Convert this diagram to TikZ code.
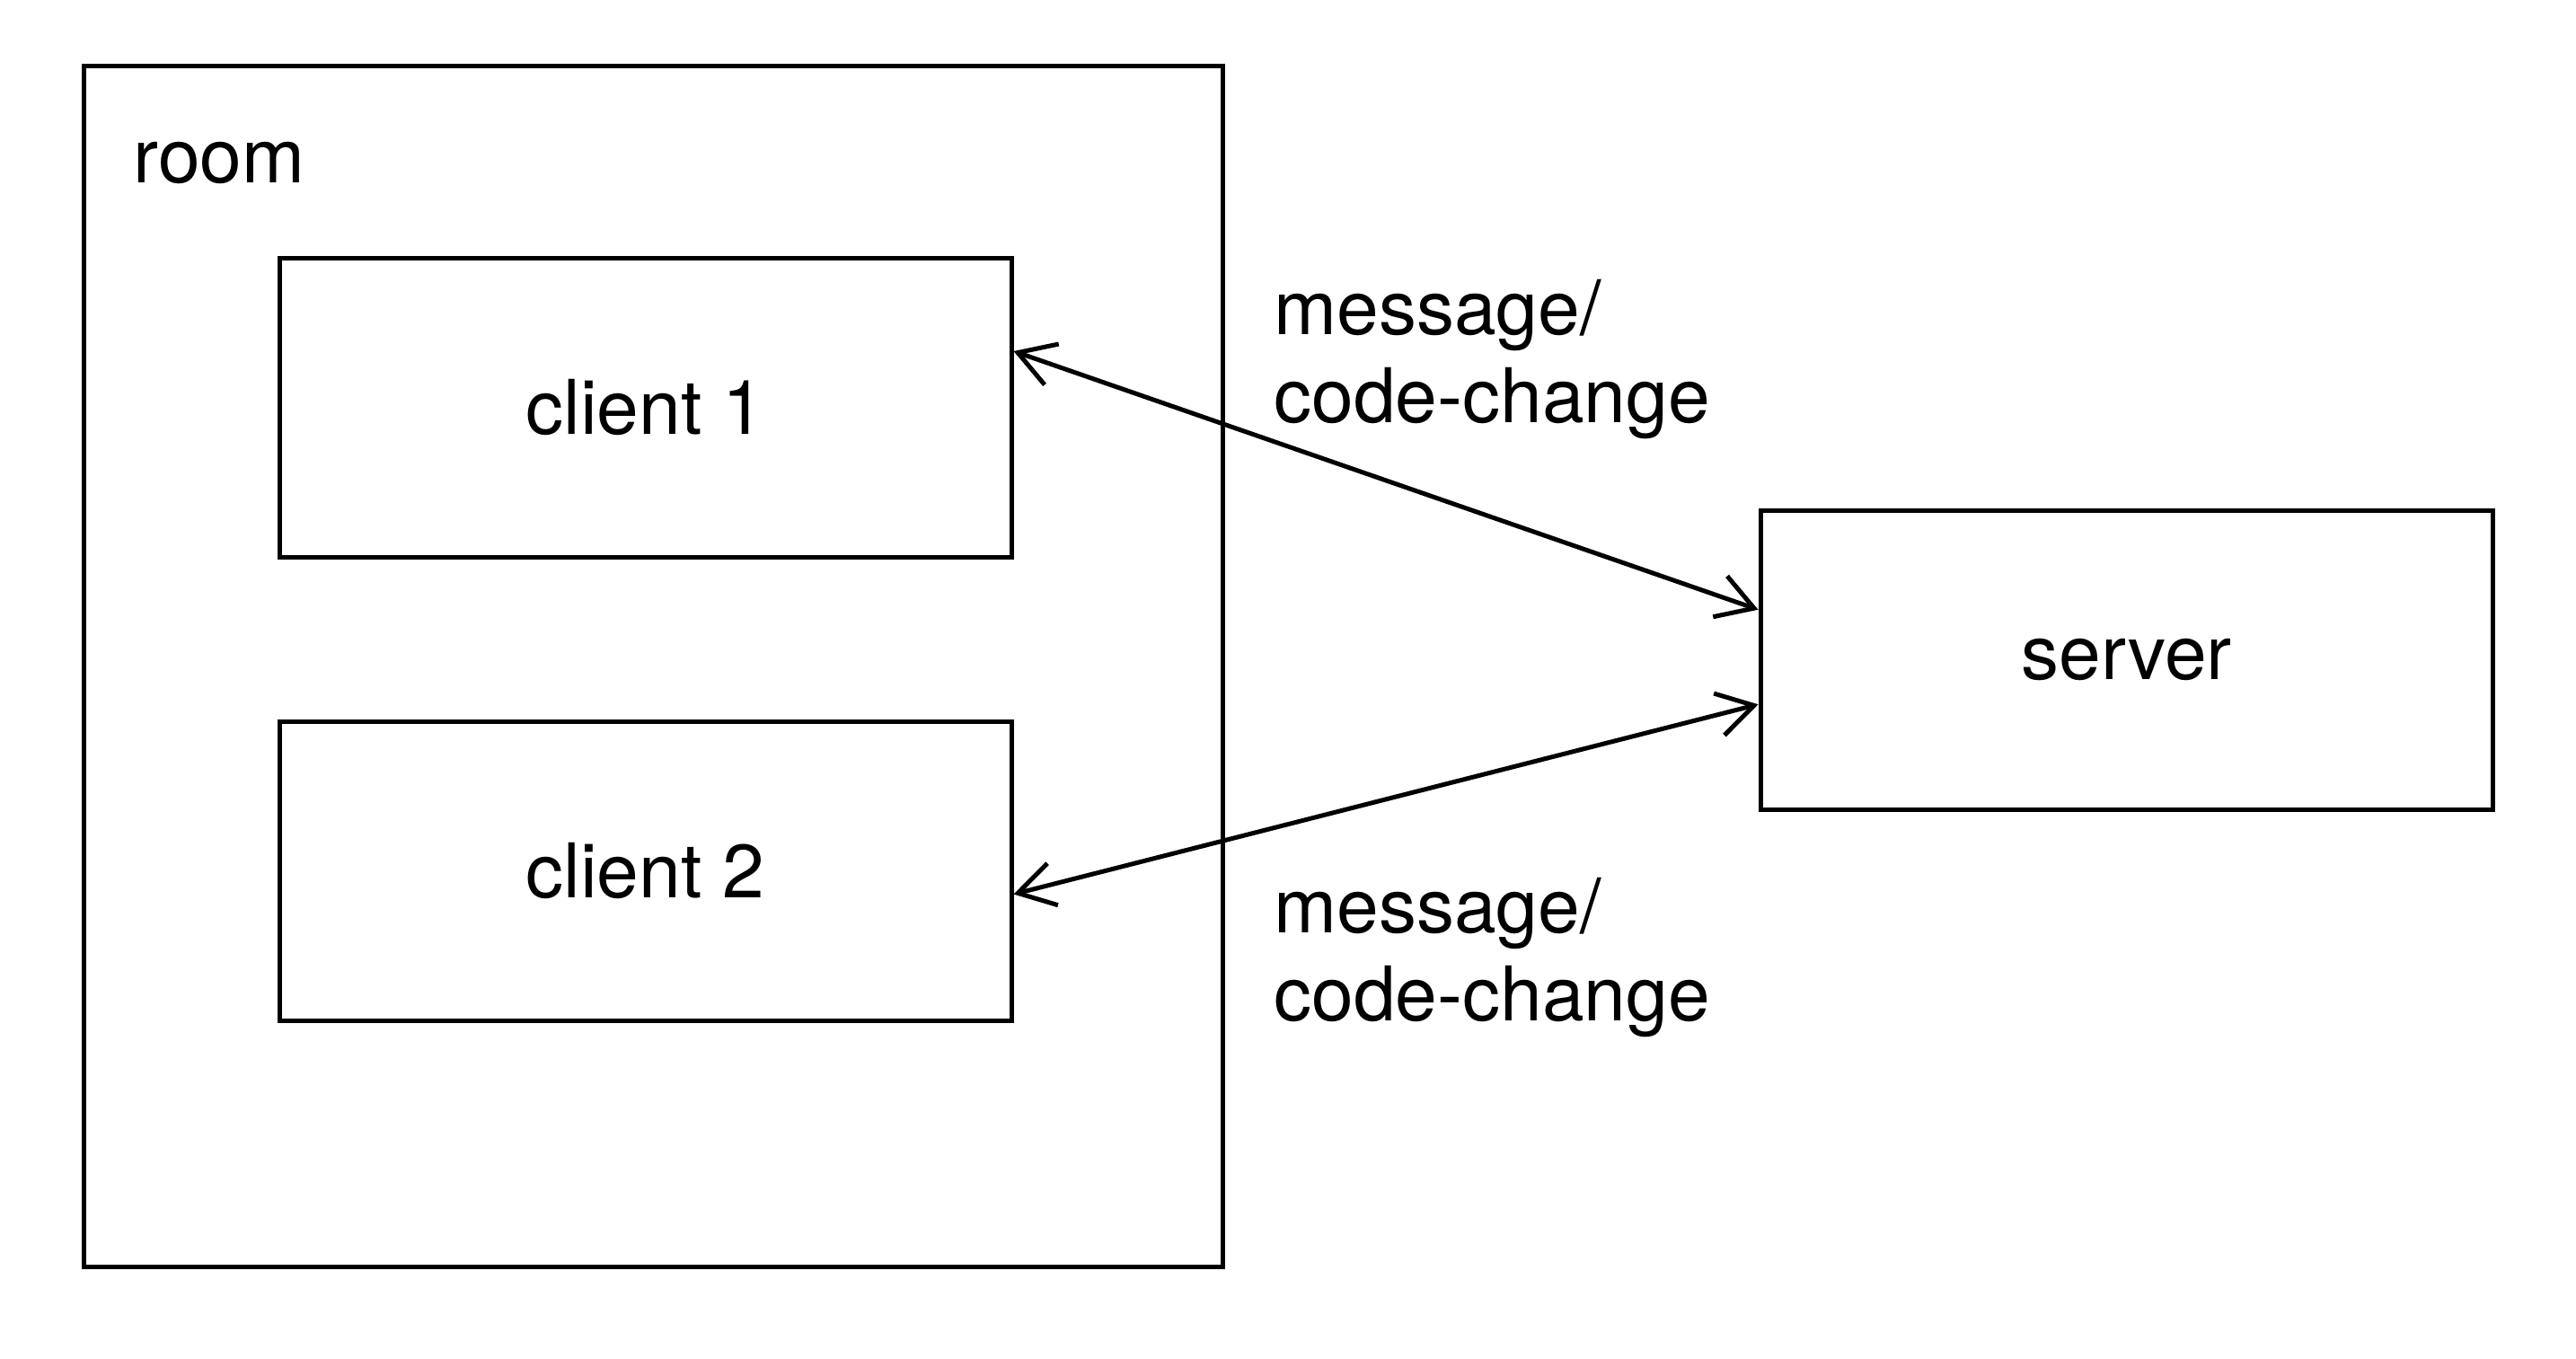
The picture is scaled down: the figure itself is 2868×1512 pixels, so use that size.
\documentclass[tikz,border=0pt]{standalone}
\usepackage{fontspec}
\setmainfont{TeX Gyre Heros}
\usetikzlibrary{arrows.meta,calc}
\begin{document}
\begin{tikzpicture}[x=0.5pt,y=-0.5pt,
  box/.style={draw=black, line width=2.5pt, rectangle, inner sep=0pt,
    minimum width=407.5pt, minimum height=166.5pt},
  txt/.style={font=\fontsize{42}{49}\selectfont},
  link/.style={line width=2.5pt, {Straight Barb[length=20pt,width=24pt,line width=2.5pt]}-{Straight Barb[length=20pt,width=24pt,line width=2.5pt]}}]
\useasboundingbox (0,0) rectangle (2868,1512);
\node[draw=black, line width=2.5pt, rectangle, inner sep=0pt, minimum width=634pt, minimum height=668.5pt] (room) at (727,741.5) {};
\node[txt, anchor=base west, inner sep=0pt] (roomlabel) at (148,203) {room};
\node[box, txt] (c1) at (718.5,453.5) {client 1};
\node[box, txt] (c2) at (718.5,969.5) {client 2};
\node[box, txt] (srv) at (2367.5,734.5) {server};
\node[txt, anchor=base west, align=left, inner sep=0pt] (l1) at (1418,470) {message/\\code-change};
\node[txt, anchor=base west, align=left, inner sep=0pt] (l2) at (1418,1136) {message/\\code-change};
\draw[link] ($(c1.north east)!0.315!(c1.south east)$) -- ($(srv.north west)!0.335!(srv.south west)$);
\draw[link] ($(c2.north east)!0.577!(c2.south east)$) -- ($(srv.north west)!0.647!(srv.south west)$);
\end{tikzpicture}
\end{document}
